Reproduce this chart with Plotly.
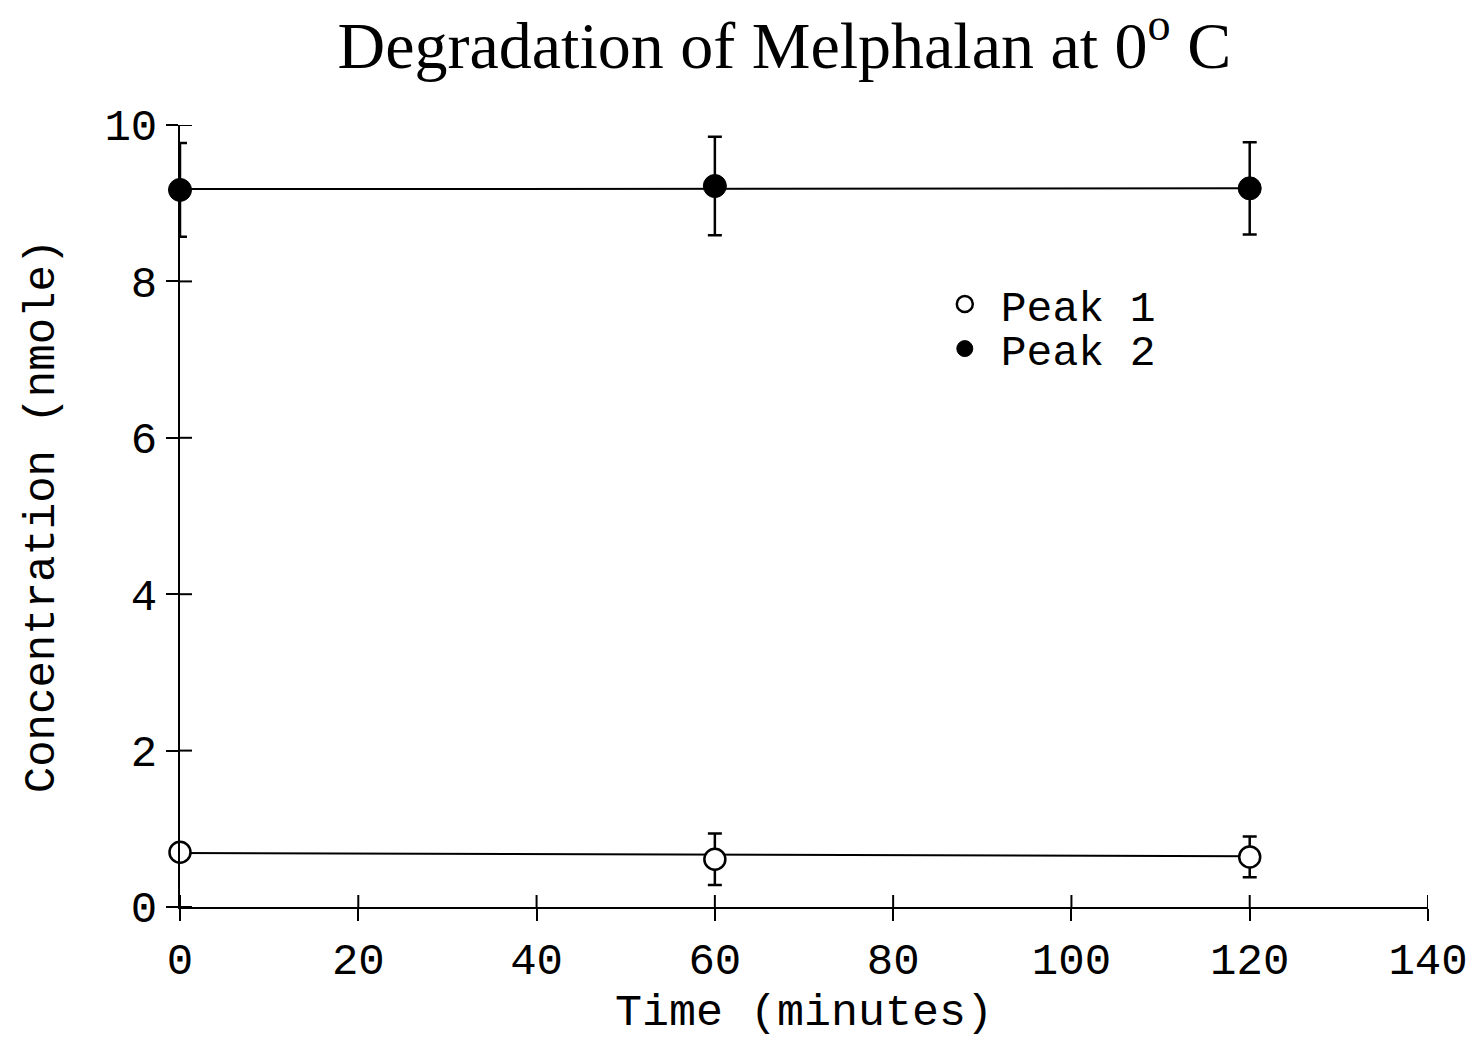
import plotly.graph_objects as go

# Sampling times (minutes)
time_min = [0, 60, 120]

# Peak 1 (open circles): mean concentration and standard deviation (nmole)
peak1_conc = [0.70, 0.61, 0.64]
peak1_err = [0.0, 0.33, 0.26]

# Peak 2 (filled circles)
peak2_conc = [9.17, 9.22, 9.19]
peak2_err = [0.60, 0.63, 0.59]

# Fitted lines over the sampled interval
fit_time = [0, 120]
peak1_fit = [0.69, 0.65]
peak2_fit = [9.18, 9.19]

x_ticks = [0, 20, 40, 60, 80, 100, 120, 140]
y_ticks = [0, 2, 4, 6, 8, 10]

MONO = "Liberation Mono, Courier New, monospace"
SERIF = "Liberation Serif, Times New Roman, serif"
TICK_LEN = 12

fig = go.Figure()

fig.add_trace(go.Scatter(
    x=fit_time, y=peak2_fit, mode="lines",
    line=dict(color="black", width=2), showlegend=False, hoverinfo="skip",
    cliponaxis=False,
))
fig.add_trace(go.Scatter(
    x=fit_time, y=peak1_fit, mode="lines",
    line=dict(color="black", width=2), showlegend=False, hoverinfo="skip",
    cliponaxis=False,
))

fig.add_trace(go.Scatter(
    x=time_min, y=peak1_conc, mode="markers", name="Peak 1",
    marker=dict(symbol="circle", size=21, color="white",
                line=dict(color="black", width=2.5)),
    error_y=dict(type="data", array=peak1_err, visible=True,
                 color="black", thickness=2.5, width=7),
    cliponaxis=False, legend="legend",
))
fig.add_trace(go.Scatter(
    x=time_min, y=peak2_conc, mode="markers", name="Peak 2",
    marker=dict(symbol="circle", size=23, color="black",
                line=dict(color="black", width=1)),
    error_y=dict(type="data", array=peak2_err, visible=True,
                 color="black", thickness=2.5, width=7),
    cliponaxis=False, legend="legend2",
))

# inward half of each crossing tick mark (the outward half comes from the axes)
for t in x_ticks:
    fig.add_shape(
        type="line", xref="x", yref="y", x0=t, x1=t,
        ysizemode="pixel", yanchor=0, y0=0, y1=TICK_LEN,
        line=dict(color="black", width=2), layer="above",
    )
for t in y_ticks:
    fig.add_shape(
        type="line", xref="x", yref="y", y0=t, y1=t,
        xsizemode="pixel", xanchor=0, x0=0, x1=TICK_LEN,
        line=dict(color="black", width=2), layer="above",
    )

axis_common = dict(
    showgrid=False, zeroline=False, showline=True,
    linecolor="black", linewidth=2,
    tickcolor="black", tickwidth=2, ticklen=TICK_LEN, ticks="outside",
    tickfont=dict(family=MONO, size=44, color="black"),
)

legend_common = dict(
    xanchor="left", yanchor="middle",
    bgcolor="rgba(0,0,0,0)", borderwidth=0,
    font=dict(family=MONO, size=43, color="black"),
    itemwidth=62,
)

fig.update_layout(
    width=1480, height=1042,
    margin=dict(l=180, r=50, t=125, b=135),
    paper_bgcolor="white", plot_bgcolor="white",
    title=dict(
        text="Degradation of Melphalan at 0<sup>o</sup> C",
        font=dict(family=SERIF, size=66, color="black"),
        x=0.53, xanchor="center", y=0.957, yanchor="middle",
    ),
    xaxis=dict(
        range=[0, 140], tickvals=x_ticks,
        title=dict(text="Time (minutes)", font=dict(family=MONO, size=45, color="black"),
                   standoff=8),
        **axis_common,
    ),
    yaxis=dict(
        range=[0, 10], tickvals=y_ticks,
        title=dict(text="Concentration (nmole)", font=dict(family=MONO, size=44, color="black"),
                   standoff=36),
        **axis_common,
    ),
    legend=dict(x=0.60, y=0.771, **legend_common),
    legend2=dict(x=0.60, y=0.714, **legend_common),
    showlegend=True,
)

fig.write_html("out.html")
